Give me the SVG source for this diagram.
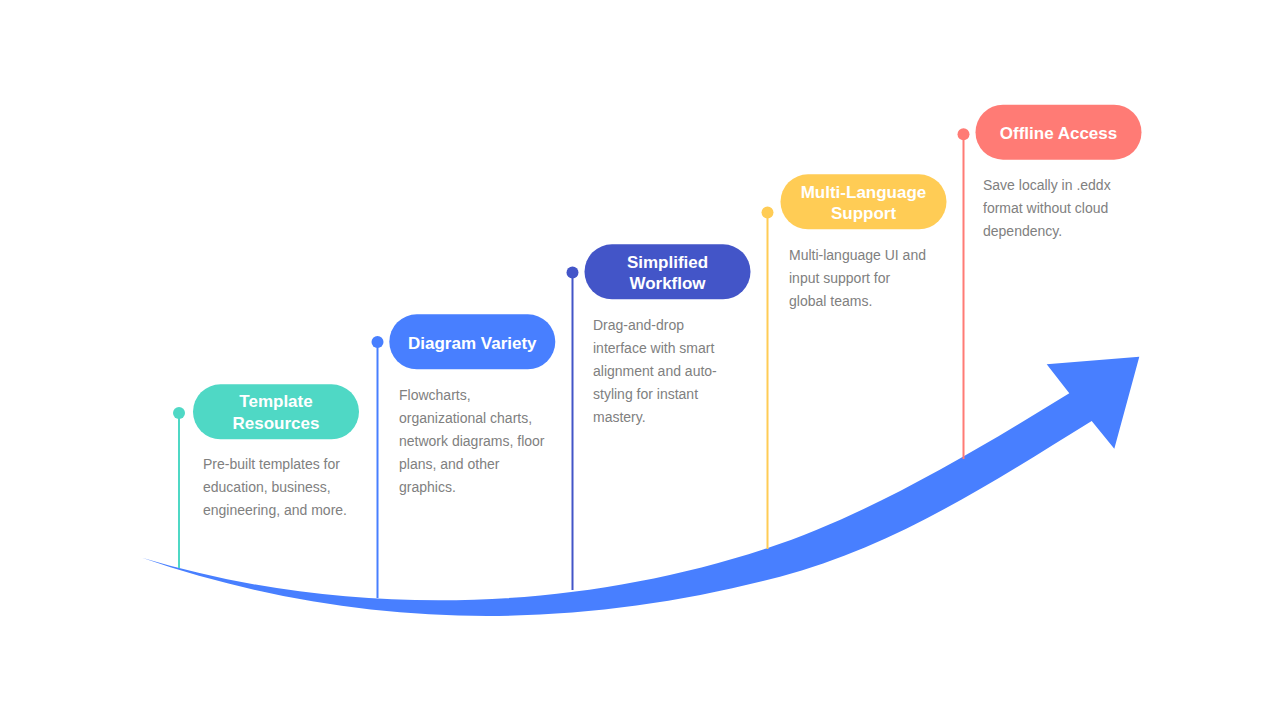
<svg xmlns="http://www.w3.org/2000/svg" width="1280" height="720" viewBox="0 0 1280 720">
  <style>
    .title { font-family: "Liberation Sans", Arial, sans-serif; font-weight: bold; font-size: 17px; fill: #ffffff; text-anchor: middle; }
    .desc { font-family: "Liberation Sans", Arial, sans-serif; font-size: 14px; fill: #808080; }
    .stem { stroke-width: 2; fill: none; }
  </style>
  <rect width="1280" height="720" fill="#ffffff"/>

  <g id="arrow">
    <path fill="#487FFF" d="M142,557.7 C342,617.7 567,614.3 767,548.3 C867,515.3 969,455 1069.3,393.3 L1046.7,364.3 L1139.3,356.7 L1114.3,448.7 L1091.7,421 C982,489.2 890,547.55 780,576.7 C570,632.3 355.5,631.2 142,557.7 Z"/>
  </g>

  <g id="connectors">
    <line class="stem" x1="179" y1="413" x2="179" y2="568" stroke="#4FD8C5"/>
    <line class="stem" x1="377.5" y1="342" x2="377.5" y2="598" stroke="#487FFF"/>
    <line class="stem" x1="572.5" y1="272" x2="572.5" y2="590" stroke="#4355C8"/>
    <line class="stem" x1="767.5" y1="212" x2="767.5" y2="549" stroke="#FFCC55"/>
    <line class="stem" x1="963.5" y1="134" x2="963.5" y2="459" stroke="#FF7B75"/>
  </g>

  <g id="node-template">
    <circle cx="179" cy="413" r="6" fill="#4FD8C5"/>
    <rect x="193" y="384.3" width="166" height="55" rx="27.5" fill="#4FD8C5"/>
    <text class="title" x="276" y="407.3">Template</text>
    <text class="title" x="276" y="429">Resources</text>
    <text class="desc" x="203" y="469">Pre-built templates for</text>
    <text class="desc" x="203" y="492">education, business,</text>
    <text class="desc" x="203" y="515">engineering, and more.</text>
  </g>

  <g id="node-diagram">
    <circle cx="377.5" cy="342" r="6" fill="#487FFF"/>
    <rect x="389.3" y="314.3" width="166" height="55" rx="27.5" fill="#487FFF"/>
    <text class="title" x="472.3" y="349">Diagram Variety</text>
    <text class="desc" x="399" y="400">Flowcharts,</text>
    <text class="desc" x="399" y="423">organizational charts,</text>
    <text class="desc" x="399" y="446">network diagrams, floor</text>
    <text class="desc" x="399" y="469">plans, and other</text>
    <text class="desc" x="399" y="492">graphics.</text>
  </g>

  <g id="node-workflow">
    <circle cx="572.5" cy="272.5" r="6" fill="#4355C8"/>
    <rect x="584.5" y="244.3" width="166" height="55" rx="27.5" fill="#4355C8"/>
    <text class="title" x="667.5" y="267.7">Simplified</text>
    <text class="title" x="667.5" y="289.3">Workflow</text>
    <text class="desc" x="593" y="330">Drag-and-drop</text>
    <text class="desc" x="593" y="353">interface with smart</text>
    <text class="desc" x="593" y="376">alignment and auto-</text>
    <text class="desc" x="593" y="399">styling for instant</text>
    <text class="desc" x="593" y="422">mastery.</text>
  </g>

  <g id="node-language">
    <circle cx="767.5" cy="212.5" r="6" fill="#FFCC55"/>
    <rect x="780.5" y="174.3" width="166" height="55" rx="27.5" fill="#FFCC55"/>
    <text class="title" x="863.5" y="197.5">Multi-Language</text>
    <text class="title" x="863.5" y="219.3">Support</text>
    <text class="desc" x="789" y="260">Multi-language UI and</text>
    <text class="desc" x="789" y="283">input support for</text>
    <text class="desc" x="789" y="306">global teams.</text>
  </g>

  <g id="node-offline">
    <circle cx="963.5" cy="134.3" r="6" fill="#FF7B75"/>
    <rect x="975.5" y="104.7" width="166" height="55" rx="27.5" fill="#FF7B75"/>
    <text class="title" x="1058.5" y="138.5">Offline Access</text>
    <text class="desc" x="983" y="190">Save locally in .eddx</text>
    <text class="desc" x="983" y="213">format without cloud</text>
    <text class="desc" x="983" y="236">dependency.</text>
  </g>
</svg>
